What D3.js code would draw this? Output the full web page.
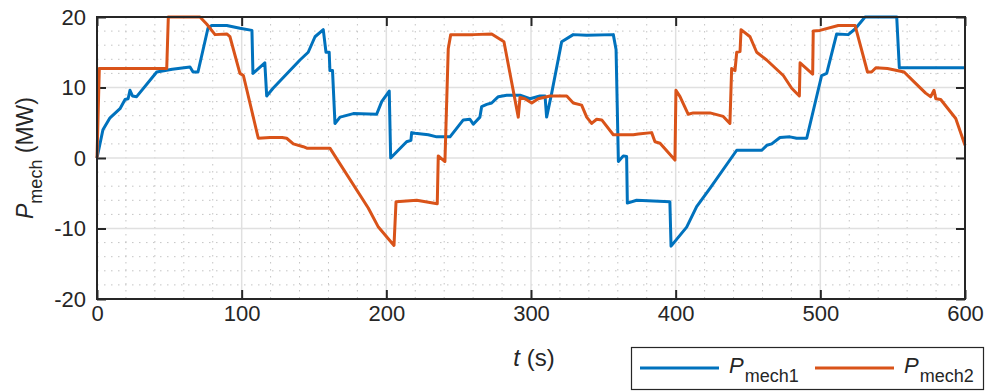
<!DOCTYPE html>
<html>
<head>
<meta charset="utf-8">
<script src="https://cdn.jsdelivr.net/npm/d3@7"></script>
<style>
  body { margin: 0; background: #fff; }
  svg { display: block; }
  text { font-family: Arial, "Liberation Sans", sans-serif; fill: #262626; }
</style>
</head>
<body>
<svg id="chart" width="989" height="392"></svg>
<script>
// ---- data ----
const xTicks = [0, 100, 200, 300, 400, 500, 600];
const yTicks = [-20, -10, 0, 10, 20];
const seriesNames = ["mech1", "mech2"];

const mech1T = [0,4.1,9,15.9,19.4,21.5,22.8,24.5,27.4,41.3,52,64.3,66.4,69.8,76.7,79.3,89.7,98.8,107.1,107.8,116,117.3,121.7,140.3,146,150.7,156.4,158.3,160.5,161,162.8,164.5,168,170,177.2,193.3,196.8,202,203,214,217,217.5,219.8,229,234.8,244,253.2,257.8,260.1,264.7,265.9,269.4,272.8,277.4,283.2,292.4,299.3,306.2,309.7,310.8,314.3,321.2,329.2,338.5,356.9,358.8,360.4,363.8,366.1,366.6,373,396,396.8,407.6,414.5,423.7,442.2,459.5,463,466.4,472.1,479,483.6,490.6,500.9,504.4,511.3,519.3,524,530.9,552.8,554.6,600];
const mech1P = [0,4,5.7,7,8.3,8.4,9.6,8.8,8.7,12.2,12.6,12.9,12.2,12.2,18.4,18.8,18.8,18.4,18.1,12,13.5,8.8,9.9,13.9,15.0,17.2,18.2,15.0,15.0,12.4,12.4,4.9,5.8,5.9,6.3,6.2,8.0,9.5,0,2.3,2.5,3.6,3.5,3.3,3.0,3.0,5.4,5.5,4.8,5.8,7.3,7.6,7.8,8.7,8.9,8.9,8.4,8.8,8.8,5.8,9.2,16.5,17.5,17.4,17.5,15.4,-0.5,0.3,0.2,-6.4,-6.0,-6.2,-12.5,-9.8,-6.9,-4.3,1.1,1.1,1.8,2.0,2.9,3.0,2.8,2.8,11.7,12,17.6,17.5,18.3,20,20,12.8,12.8];

const mech2T = [0,1.6,48.2,49.3,71.2,75.8,81.6,89.7,91.9,98.8,101.2,111.5,119.6,128,131.1,135.7,142.6,145,161,187.5,194.5,205.3,206.7,221,235.2,235.9,240.5,242.8,244.5,260.1,272.8,279.7,281.3,291.2,292.4,295.8,300.5,305,313.1,324.7,329.2,335,338.5,341.9,345.4,348.9,356.9,370.7,374.2,383.4,385.7,389.2,399.5,400.2,403,408.7,412.2,423.7,432.9,437.5,438.7,441,442.2,444.5,445.2,451.4,456,462.9,474.4,480.2,485.5,486,494.7,495.1,499.7,512.4,524,532.6,535.4,538.4,546.4,557.9,564.8,572.8,576.3,578.6,579.8,583.2,593.6,600];
const mech2P = [0,12.7,12.7,20,20,19,17.5,17.6,17.2,12,11.7,2.8,2.9,2.9,2.8,2.0,1.6,1.4,1.4,-7.1,-9.8,-12.4,-6.2,-6.0,-6.5,0.3,-0.5,15.5,17.5,17.5,17.6,16.7,16.5,5.8,8.6,8.4,7.8,8.4,8.8,8.8,7.8,7.5,5.8,4.9,5.5,5.4,3.3,3.3,3.4,3.6,2.3,2.1,-0.3,9.6,8.7,6.2,6.4,6.4,5.9,4.9,12.7,12.4,15.0,15.1,18.2,17.2,15.0,13.9,11.7,9.9,8.8,13.5,11.9,18.0,18.1,18.8,18.8,12.2,12.2,12.8,12.7,12.2,10.8,9.2,8.7,9.6,8.4,8.3,5.6,1.8];

const colors = ["#0072BD", "#D95319"];

// ---- layout ----
const svg = d3.select("#chart");
const L = 97, R = 965, T = 17, B = 299;
const x = d3.scaleLinear().domain([0, 600]).range([L, R]);
const y = d3.scaleLinear().domain([-20, 20]).range([B, T]);

// minor grid (dotted)
const g = svg.append("g");
g.selectAll(".mx").data(d3.range(0, 601, 20).filter(v => v % 100 !== 0)).join("line")
  .attr("x1", d => x(d)).attr("x2", d => x(d)).attr("y1", T).attr("y2", B)
  .attr("stroke", "#c4c4c4").attr("stroke-width", 1).attr("stroke-dasharray", "1.5,5.5");
g.selectAll(".my").data(d3.range(-20, 21, 2).filter(v => v % 10 !== 0)).join("line")
  .attr("x1", L).attr("x2", R).attr("y1", d => y(d)).attr("y2", d => y(d))
  .attr("stroke", "#c4c4c4").attr("stroke-width", 1).attr("stroke-dasharray", "1.5,5.5");
// major grid
g.selectAll(".Mx").data(xTicks).join("line")
  .attr("x1", d => x(d)).attr("x2", d => x(d)).attr("y1", T).attr("y2", B)
  .attr("stroke", "#e0e0e0").attr("stroke-width", 1.5);
g.selectAll(".My").data(yTicks).join("line")
  .attr("x1", L).attr("x2", R).attr("y1", d => y(d)).attr("y2", d => y(d))
  .attr("stroke", "#e0e0e0").attr("stroke-width", 1.5);

// axes via d3 axis
const fmt = d => String(d);
const axB = svg.append("g").attr("transform", `translate(0,${B})`)
  .call(d3.axisBottom(x).tickValues(xTicks).tickSize(-9).tickPadding(6).tickFormat(fmt));
const axT = svg.append("g").attr("transform", `translate(0,${T})`)
  .call(d3.axisTop(x).tickValues(xTicks).tickSize(-9).tickFormat(""));
const axL = svg.append("g").attr("transform", `translate(${L},0)`)
  .call(d3.axisLeft(y).tickValues(yTicks).tickSize(-9).tickPadding(11).tickFormat(fmt));
const axR = svg.append("g").attr("transform", `translate(${R},0)`)
  .call(d3.axisRight(y).tickValues(yTicks).tickSize(-9).tickFormat(""));
[axB, axT, axL, axR].forEach(a => {
  a.select(".domain").remove();
  a.selectAll(".tick line").attr("stroke", "#262626").attr("stroke-width", 2);
  a.selectAll(".tick text").style("font-size", "22px").attr("fill", "#262626")
    .style("font-family", "Arial, 'Liberation Sans', sans-serif");
});
axB.selectAll(".tick text").attr("dy", "0.71em");

// lines
const line = d3.line().x(d => x(d[0])).y(d => y(d[1]));
const data = [d3.zip(mech1T, mech1P), d3.zip(mech2T, mech2P)];
svg.selectAll(".series").data(data).join("path")
  .attr("d", line).attr("fill", "none")
  .attr("stroke", (d, i) => colors[i]).attr("stroke-width", 3)
  .attr("stroke-linejoin", "round");

// box
svg.append("rect").attr("x", L).attr("y", T).attr("width", R - L).attr("height", B - T)
  .attr("fill", "none").attr("stroke", "#262626").attr("stroke-width", 2);

// x label
const xl = svg.append("text").attr("x", (L + R) / 2 + 3).attr("y", 366)
  .attr("text-anchor", "middle").style("font-size", "24px");
xl.append("tspan").style("font-style", "italic").text("t");
xl.append("tspan").text(" (s)");

// y label
const yl = svg.append("text").attr("transform", `translate(33,${(T + B) / 2}) rotate(-90)`)
  .attr("text-anchor", "middle").style("font-size", "23px");
yl.append("tspan").style("font-style", "italic").text("P");
yl.append("tspan").attr("dy", 9).style("font-size", "18px").text("mech");
yl.append("tspan").attr("dy", -9).text(" (MW)");

// legend
const lg = svg.append("g");
lg.append("rect").attr("x", 631.5).attr("y", 347.5).attr("width", 352).attr("height", 42)
  .attr("fill", "#fff").attr("stroke", "#262626").attr("stroke-width", 1.2);
const legendItems = [{x0: 640, tx: 729}, {x0: 815, tx: 904}];
legendItems.forEach((it, i) => {
  lg.append("line").attr("x1", it.x0).attr("x2", it.x0 + 79).attr("y1", 368).attr("y2", 368)
    .attr("stroke", colors[i]).attr("stroke-width", 3);
  const t = lg.append("text").attr("x", it.tx).attr("y", 373).style("font-size", "22px");
  t.append("tspan").style("font-style", "italic").text("P");
  t.append("tspan").attr("dy", 9).attr("dx", 1).style("font-size", "18px").text(seriesNames[i]);
});
</script>
</body>
</html>
